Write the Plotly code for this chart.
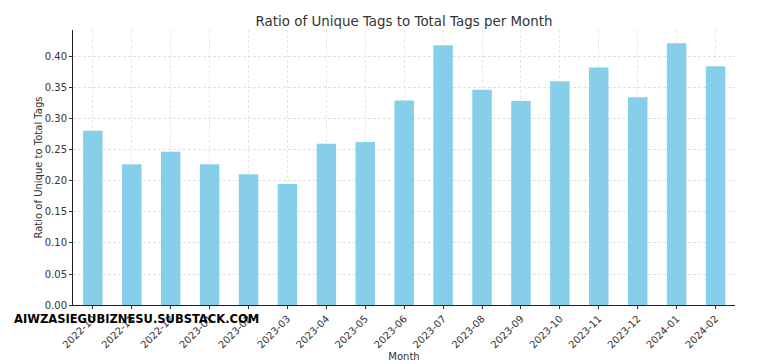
import plotly.graph_objects as go

months = ["2022-10", "2022-11", "2022-12", "2023-01", "2023-02", "2023-03", "2023-04",
          "2023-05", "2023-06", "2023-07", "2023-08", "2023-09", "2023-10", "2023-11",
          "2023-12", "2024-01", "2024-02"]
ratios = [0.281, 0.227, 0.247, 0.227, 0.211, 0.195, 0.260, 0.263, 0.330, 0.419,
          0.347, 0.329, 0.361, 0.383, 0.335, 0.422, 0.385]
y_ticks = [0.00, 0.05, 0.10, 0.15, 0.20, 0.25, 0.30, 0.35, 0.40]
y_tick_labels = ["0.00", "0.05", "0.10", "0.15", "0.20", "0.25", "0.30", "0.35", "0.40"]

fig = go.Figure()
fig.add_trace(go.Bar(
    x=list(range(len(months))), y=ratios, width=0.5,
    marker=dict(color="#87CEEB", line=dict(width=0)),
))

fig.update_layout(
    width=769, height=364,
    margin=dict(l=73, r=34, t=30, b=59, autoexpand=False),
    paper_bgcolor="white", plot_bgcolor="white",
    font=dict(family="DejaVu Sans", color="#333333", size=10),
    showlegend=False,
    title=dict(text="Ratio of Unique Tags to Total Tags per Month",
               x=404/769, xanchor="center", y=1-21/364, yanchor="middle",
               font=dict(size=13.4, color="#333333")),
)
fig.update_xaxes(
    range=[-0.51, 16.5], tickmode="array", tickvals=list(range(len(months))),
    ticktext=months, tickangle=-45, ticks="outside", ticklen=3, tickcolor="#333333",
    showline=True, linecolor="#222222", linewidth=1, mirror=False, automargin=False,
    showgrid=True, gridcolor="#e6e6e6", griddash="3px,2px", gridwidth=0.8,
    zeroline=False, tickfont=dict(size=10),
    title=dict(text="Month", font=dict(size=10), standoff=0),
)
fig.update_yaxes(
    range=[0, 0.4435], tickmode="array", tickvals=y_ticks, ticktext=y_tick_labels,
    ticks="outside", ticklen=3, tickcolor="#333333", automargin=False,
    showline=True, linecolor="#222222", linewidth=1,
    showgrid=True, gridcolor="#e0e0e0", griddash="3px,2px", gridwidth=0.8,
    zeroline=False, tickfont=dict(size=10),
    title=dict(text="Ratio of Unique to Total Tags", font=dict(size=10), standoff=0),
)
fig.add_annotation(
    text="<b>AIWZASIEGUBIZNESU.SUBSTACK.COM</b>", xref="paper", yref="paper",
    x=(12-73)/(769-73-34), xanchor="left", y=(364-59-318)/(364-30-59), yanchor="middle",
    showarrow=False,
    font=dict(family="Liberation Sans Narrow, DejaVu Sans Condensed, Liberation Sans", size=12.8, color="black"),
)
fig.write_html("out.html", config={"displayModeBar": False},
               post_script="document.body.style.margin='0';document.body.style.overflow='hidden';")
